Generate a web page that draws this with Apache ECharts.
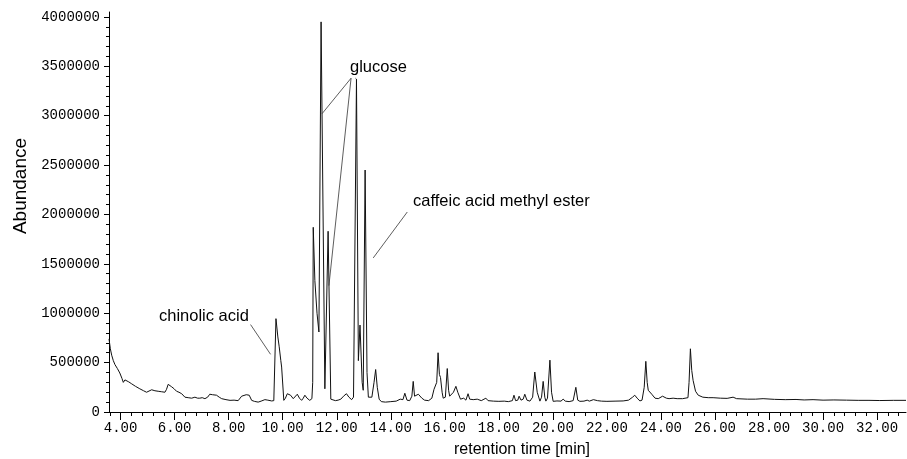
<!DOCTYPE html>
<html>
<head>
<meta charset="utf-8">
<script src="https://cdn.jsdelivr.net/npm/echarts@6/dist/echarts.min.js"></script>
<style>
  html, body { margin: 0; padding: 0; background: #fff; }
  #chart { width: 907px; height: 459px; }
</style>
</head>
<body>
<div id="chart"></div>
<script>
// retention time (min) of each trace point
const times = [
    3.57, 3.62, 3.67, 3.73, 3.79, 3.88, 3.97, 4.05, 4.10, 4.16, 4.22, 4.30, 4.41, 4.55, 4.71, 4.85, 4.96, 5.02, 5.15, 5.27,
    5.39, 5.52, 5.64, 5.70, 5.76, 5.82, 5.89, 5.98, 6.07, 6.16, 6.26, 6.38, 6.50, 6.63, 6.75, 6.85, 6.93, 7.02, 7.12, 7.22,
    7.30, 7.40, 7.55, 7.65, 7.74, 7.90, 8.05, 8.20, 8.35, 8.42, 8.48, 8.54, 8.65, 8.76, 8.85, 8.95, 9.09, 9.20, 9.34, 9.45,
    9.59, 9.67, 9.75, 9.82, 9.87, 9.93, 9.96, 10.04, 10.10, 10.17, 10.23, 10.29, 10.35, 10.39, 10.46, 10.54, 10.62, 10.70, 10.76, 10.82,
    10.90, 11.00, 11.08, 11.11, 11.13, 11.19, 11.27, 11.34, 11.42, 11.56, 11.68, 11.78, 11.85, 11.95, 12.05, 12.15, 12.25, 12.36, 12.45, 12.55,
    12.62, 12.68, 12.73, 12.80, 12.86, 12.94, 12.98, 13.05, 13.12, 13.17, 13.22, 13.30, 13.38, 13.44, 13.50, 13.57, 13.65, 13.80, 14.00, 14.20,
    14.35, 14.45, 14.52, 14.60, 14.70, 14.78, 14.83, 14.88, 14.95, 15.02, 15.08, 15.15, 15.25, 15.40, 15.52, 15.60, 15.64, 15.70, 15.75, 15.80,
    15.84, 15.90, 15.94, 16.02, 16.09, 16.14, 16.18, 16.25, 16.32, 16.41, 16.48, 16.58, 16.70, 16.78, 16.86, 16.92, 17.05, 17.20, 17.35, 17.52,
    17.60, 17.80, 18.00, 18.20, 18.35, 18.50, 18.56, 18.62, 18.70, 18.75, 18.82, 18.90, 18.96, 19.04, 19.15, 19.25, 19.33, 19.42, 19.52, 19.58,
    19.64, 19.70, 19.74, 19.80, 19.89, 19.95, 20.01, 20.15, 20.30, 20.38, 20.46, 20.60, 20.75, 20.85, 20.92, 21.00, 21.15, 21.27, 21.35, 21.50,
    21.55, 21.65, 21.80, 22.00, 22.30, 22.60, 22.80, 22.95, 23.03, 23.12, 23.22, 23.30, 23.38, 23.44, 23.49, 23.53, 23.59, 23.66, 23.78, 23.90,
    24.06, 24.20, 24.30, 24.45, 24.60, 24.80, 25.00, 25.04, 25.09, 25.14, 25.19, 25.28, 25.38, 25.55, 25.75, 25.93, 26.20, 26.45, 26.67, 26.80,
    27.20, 27.50, 27.78, 28.20, 28.60, 29.00, 29.30, 29.63, 30.00, 30.40, 30.87, 31.30, 31.70, 32.10, 32.60, 33.07
];

// abundance at each point (thousands)
const abundanceK = [
    740, 640, 575, 520, 480, 440, 395, 340, 300, 325, 320, 305, 285, 260, 235, 215, 200, 215, 225, 215,
    210, 205, 200, 230, 280, 265, 255, 235, 210, 200, 185, 150, 145, 140, 150, 140, 140, 145, 135, 150,
    180, 175, 170, 150, 135, 125, 118, 120, 115, 112, 160, 180, 175, 170, 118, 108, 100, 110, 125, 120,
    112, 115, 945, 760, 660, 520, 455, 118, 140, 185, 175, 170, 150, 135, 150, 180, 140, 118, 140, 170,
    140, 118, 135, 300, 1870, 1330, 1000, 810, 3950, 235, 1830, 130, 120, 115, 120, 130, 160, 185, 150, 125,
    150, 150, 3370, 520, 880, 300, 220, 2450, 400, 150, 140, 150, 300, 430, 250, 130, 105, 100, 105, 110,
    130, 125, 190, 120, 115, 160, 310, 160, 150, 180, 190, 140, 120, 115, 140, 230, 250, 300, 600, 380,
    350, 200, 140, 150, 440, 220, 160, 180, 200, 260, 200, 130, 140, 120, 185, 130, 125, 130, 115, 140,
    115, 110, 108, 110, 105, 115, 170, 115, 120, 160, 120, 130, 180, 120, 110, 150, 405, 200, 110, 150,
    310, 150, 110, 140, 525, 200, 108, 112, 110, 130, 110, 105, 115, 250, 120, 108, 110, 120, 110, 125,
    135, 115, 110, 108, 110, 112, 120, 150, 170, 140, 112, 120, 250, 513, 300, 220, 225, 180, 140, 135,
    160, 140, 135, 140, 135, 135, 145, 300, 640, 420, 320, 210, 170, 150, 145, 145, 140, 138, 150, 135,
    130, 130, 135, 128, 125, 127, 122, 125, 120, 122, 120, 118, 118, 116, 118, 118
];

// axis ticks
const xMajorTicks = [4, 6, 8, 10, 12, 14, 16, 18, 20, 22, 24, 26, 28, 30, 32];
const yMajorTicks = [0, 500000, 1000000, 1500000, 2000000, 2500000, 3000000, 3500000, 4000000];

// leader lines: [label end, peak end] as [time, abundance]
const glucoseLeaders = [
    [[12.53, 3380000], [11.455, 3020000]],
    [[12.53, 3380000], [11.71, 1280000]],
    [[12.69, 3380000], [12.73, 3370000]]
];
const chinolicLeader = [[8.81, 885000], [9.55, 584000]];
const caffeicLeader = [[14.61, 2025000], [13.35, 1560000]];

const xMinorTicks = [];
for (let k = 9; k <= 82; k++) xMinorTicks.push(Math.round(k * 4) / 10);
const yMinorTicks = [];
for (let k = 0; k <= 40; k++) yMinorTicks.push(k * 100000);

const dom = document.getElementById('chart');
const chart = echarts.init(dom);

const trace = times.map((t, i) => [t, abundanceK[i] * 1000]);
const leaders = glucoseLeaders.concat([chinolicLeader, caffeicLeader])
    .map(seg => [{ coord: seg[0] }, { coord: seg[1] }]);

const monoFont = 'Liberation Mono';
const sansFont = '"Liberation Sans", Arial, sans-serif';

const option = {
    animation: false,
    backgroundColor: '#fff',
    grid: { left: 109, right: 1, top: 12, bottom: 47 },
    xAxis: [
        {
            type: 'value', min: 3.57, max: 33.07, position: 'bottom',
            axisLine: { lineStyle: { color: '#000', width: 1 } },
            axisTick: { customValues: xMajorTicks, length: 8, lineStyle: { color: '#000' } },
            axisLabel: {
                customValues: xMajorTicks,
                formatter: v => v.toFixed(2),
                fontFamily: monoFont, fontSize: 14, color: '#000', margin: 9
            },
            splitLine: { show: false }
        },
        {
            type: 'value', min: 3.57, max: 33.07, position: 'bottom',
            axisLine: { show: false },
            axisTick: { customValues: xMinorTicks, length: 4, lineStyle: { color: '#000' } },
            axisLabel: { show: false },
            splitLine: { show: false }
        }
    ],
    yAxis: [
        {
            type: 'value', min: 0, max: 4050000, position: 'left',
            axisLine: { show: true, lineStyle: { color: '#000', width: 1 } },
            axisTick: { show: true, customValues: yMajorTicks, length: 5, lineStyle: { color: '#000' } },
            axisLabel: {
                customValues: yMajorTicks,
                formatter: v => String(v),
                fontFamily: monoFont, fontSize: 14, color: '#000', margin: 9
            },
            splitLine: { show: false }
        },
        {
            type: 'value', min: 0, max: 4050000, position: 'left',
            axisLine: { show: false },
            axisTick: { show: true, customValues: yMinorTicks, length: 3, lineStyle: { color: '#000' } },
            axisLabel: { show: false },
            splitLine: { show: false }
        }
    ],
    series: [{
        type: 'line',
        data: trace,
        showSymbol: false,
        symbol: 'none',
        lineStyle: { color: '#111', width: 1 },
        markLine: {
            silent: true,
            symbol: 'none',
            label: { show: false },
            lineStyle: { color: '#333', width: 0.8, type: 'solid' },
            data: leaders
        }
    }],
    graphic: [
        {
            type: 'text', x: 21, y: 186, rotation: Math.PI / 2,
            style: { text: 'Abundance', font: '19px ' + sansFont, fill: '#000', align: 'center', verticalAlign: 'middle' }
        },
        {
            type: 'text', x: 522, y: 450,
            style: { text: 'retention time [min]', font: '16px ' + sansFont, fill: '#000', align: 'center', verticalAlign: 'middle' }
        },
        {
            type: 'text', x: 350, y: 67,
            style: { text: 'glucose', font: '16.5px ' + sansFont, fill: '#000', align: 'left', verticalAlign: 'middle' }
        },
        {
            type: 'text', x: 159, y: 316,
            style: { text: 'chinolic acid', font: '16.5px ' + sansFont, fill: '#000', align: 'left', verticalAlign: 'middle' }
        },
        {
            type: 'text', x: 413, y: 201,
            style: { text: 'caffeic acid methyl ester', font: '16.5px ' + sansFont, fill: '#000', align: 'left', verticalAlign: 'middle' }
        }
    ]
};

chart.setOption(option);
</script>
</body>
</html>
